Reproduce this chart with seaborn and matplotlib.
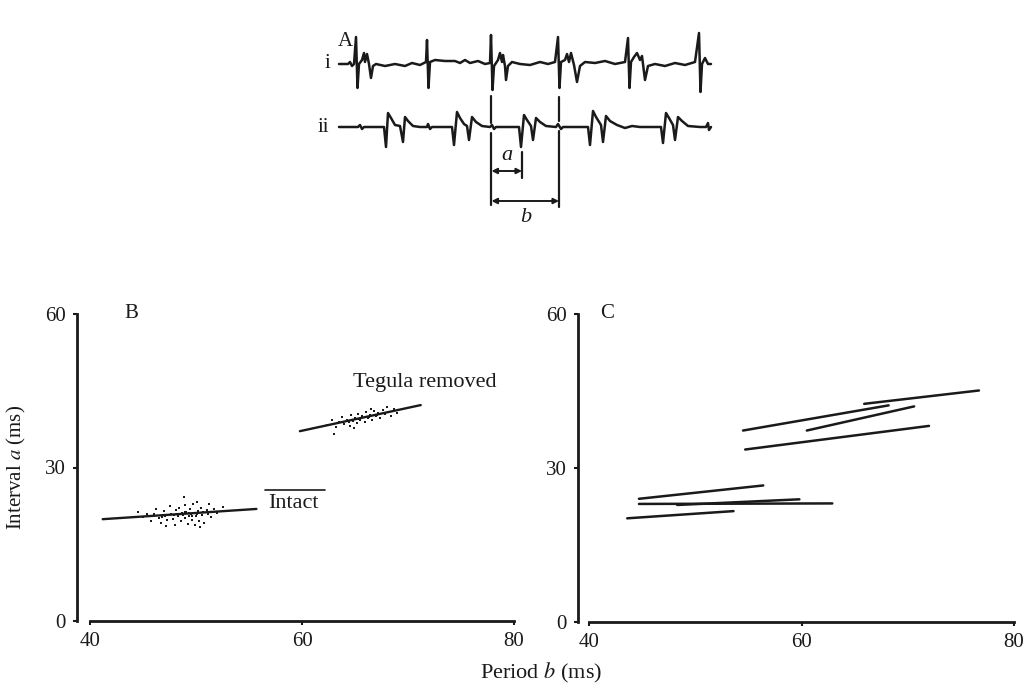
import numpy as np
import pandas as pd
import seaborn as sns
import matplotlib.pyplot as plt

# ---- panel A: two extracellular traces (time in trace samples, amplitude from baseline)
trace_i_t = [0, 9, 11, 13, 15, 17, 18.5, 20, 23, 25, 26, 28, 30, 32, 34, 37, 46, 56, 66, 73,
             81, 87, 88, 89.5, 91, 96, 106, 116, 121, 126, 131, 139, 146, 151, 152, 153.5,
             155, 159, 161, 163, 164, 166, 167, 169, 173, 181, 191, 201, 209, 216, 219,
             220.5, 222, 226, 228, 230, 232, 235, 238, 241, 246, 256, 266, 276, 286, 289,
             290.5, 292, 295, 298, 301, 303, 306, 309, 316, 326, 336, 346, 356, 360,
             361.5, 363, 366, 369, 372]
trace_i_v = [0, 0, 2, -2, 0, 27, -24, 0, 4, 11, 2, 10, 0, -14, -2, 0, -2, 0, -2, 1,
             -1, 2, 24, -24, 2, 4, 3, 3, 1, 4, 1, 3, 0, 1, 29, -26,
             -2, 4, 11, 2, 9, -2, -16, -2, 2, 0, -1, 2, 0, 2, 27,
             -24, 2, 4, 10, 2, 11, -1, -18, -2, 2, 1, 3, 0, 2, 26,
             -24, 2, 7, 11, 4, 8, -16, -2, 0, -2, 1, -1, 2, 31,
             -28, 0, 6, 0, 0]

trace_ii_t = [0, 19, 21, 23, 25, 45, 47, 49, 52, 56, 61, 64, 66, 69, 74, 81, 88, 89, 91, 93,
              113, 115, 118, 121, 125, 128, 130, 133, 137, 143, 151, 153, 155, 157,
              180, 182, 185, 188, 192, 194, 197, 201, 207, 217, 219, 222, 224,
              249, 251, 254, 257, 262, 264, 267, 271, 278, 286, 293, 301,
              322, 324, 327, 330, 334, 336, 339, 343, 349, 361, 367, 369, 370, 372]
trace_ii_v = [0, 0, 2, -2, 0, 0, -20, 14, 9, 2, 1, -15, 10, 6, 1, 0, 0, 3, -2, 0,
              0, -18, 15, 9, 3, 1, -13, 10, 5, 1, 0, 2, -2, 0,
              0, -20, 12, 7, 1, -13, 9, 5, 1, 0, 3, -2, 0,
              0, -18, 16, 10, 2, -15, 11, 6, 2, -1, 1, 0,
              0, -16, 14, 9, 2, -13, 10, 6, 1, 0, 0, 4, -3, 0]

marker_t = [152.5, 220]     # trace i spikes used as reference
a_end_t = 183               # onset of the trace ii burst

# ---- panel B: a against b, intact and tegula removed
intact_b = [44.5, 45.0, 45.4, 45.8, 46.0, 46.2, 46.5, 46.7, 47.0, 47.1, 47.3, 47.5, 47.6, 47.8,
            48.0, 48.1, 48.3, 48.4, 48.6, 48.7, 48.8, 49.0, 49.0, 49.1, 49.2, 49.3, 49.4,
            49.5, 49.6, 49.7, 49.8, 49.9, 50.0, 50.1, 50.2, 50.3, 50.5, 50.6, 50.8, 51.0,
            51.2, 51.4, 51.7, 52.0, 52.5, 48.9, 47.2, 50.4, 48.2, 49.3, 50.7, 47.9, 49.6,
            48.5, 50.1, 46.8, 51.1, 49.0]
intact_a = [21.4, 20.3, 21.0, 19.6, 20.9, 21.8, 20.2, 19.2, 21.5, 20.6, 19.8, 22.4, 21.0, 20.0,
            18.8, 21.6, 20.5, 22.0, 19.5, 21.2, 20.8, 20.2, 22.6, 21.4, 19.0, 20.6, 21.8,
            20.9, 19.8, 22.9, 21.1, 18.7, 20.5, 23.2, 21.5, 19.6, 22.1, 20.8, 19.2, 21.6,
            22.8, 20.4, 21.9, 21.2, 22.3, 24.2, 18.5, 18.4, 20.9, 21.1, 21.3, 20.7, 20.6,
            21.0, 20.9, 20.4, 21.0, 21.3]
tegula_b = [62.4, 62.8, 63.2, 63.5, 63.8, 64.0, 64.2, 64.5, 64.6, 64.8, 65.0, 65.2, 65.3, 65.5,
            65.7, 65.9, 66.0, 66.2, 66.4, 66.6, 66.8, 67.0, 67.2, 67.4, 67.6, 67.8, 68.1,
            68.4, 68.7, 69.0, 63.0, 66.5, 64.9, 68.0, 64.4, 65.4, 66.3, 67.1]
tegula_a = [38.3, 39.2, 37.9, 38.9, 39.8, 38.5, 39.3, 38.1, 40.2, 39.0, 39.6, 38.6, 40.5, 39.3,
            40.0, 38.9, 40.8, 39.7, 40.3, 39.2, 41.0, 40.1, 40.7, 39.6, 41.3, 40.4, 40.9,
            40.0, 41.4, 40.7, 36.5, 41.5, 37.7, 41.8, 38.9, 39.4, 39.8, 40.2]
fit_b = {"Intact": [41.2, 55.7], "Tegula removed": [59.8, 71.2]}
fit_a = {"Intact": [19.9, 21.9], "Tegula removed": [37.1, 42.2]}

# ---- panel C: regression lines from individual animals
c_b0 = [54.5, 65.9, 60.5, 54.7, 44.7, 44.7, 48.3, 43.6]
c_b1 = [68.2, 76.7, 70.6, 72.0, 56.4, 62.9, 59.8, 53.6]
c_a0 = [37.3, 42.5, 37.3, 33.6, 24.0, 23.0, 22.8, 20.2]
c_a1 = [42.2, 45.1, 42.0, 38.2, 26.6, 23.1, 23.9, 21.6]

sns.set_theme(style="ticks")
plt.rcParams["font.family"] = ["Liberation Serif", "DejaVu Serif"]
plt.rcParams["mathtext.fontset"] = "stix"
plt.rcParams["text.color"] = "k"
plt.rcParams["axes.labelcolor"] = "k"

W, H = 1036, 688
fig = plt.figure(figsize=(W / 100, H / 100), dpi=100)


def px_axes(x0, y0, x1, y1):
    return fig.add_axes([x0 / W, 1 - y1 / H, (x1 - x0) / W, (y1 - y0) / H])


# ---------------- A
axA = px_axes(300, 25, 740, 235)
axA.set_xlim(-39, 401)
axA.set_ylim(-171, 39)
axA.axis("off")
sns.lineplot(x=trace_i_t, y=trace_i_v, sort=False, estimator=None, color="k", lw=1.8, ax=axA)
sns.lineplot(x=trace_ii_t, y=np.array(trace_ii_v) - 63, sort=False, estimator=None,
             color="k", lw=1.8, ax=axA)
for t, up, low in zip(marker_t, [(-32, -59), (-33, -57)], [(-69, -141), (-67, -143)]):
    axA.plot([t, t], up, color="k", lw=1.6)
    axA.plot([t, t], low, color="k", lw=1.6)
axA.plot([a_end_t, a_end_t], [-88, -114], color="k", lw=1.6)
arr = dict(arrowstyle="<|-|>", color="k", lw=1.4, mutation_scale=8, shrinkA=0, shrinkB=0)
axA.annotate("", xy=(a_end_t, -107), xytext=(marker_t[0], -107), arrowprops=arr)
axA.annotate("", xy=(marker_t[1], -137), xytext=(marker_t[0], -137), arrowprops=arr)
axA.text((marker_t[0] + a_end_t) / 2, -91, "a", style="italic", fontsize=16, ha="center", va="center")
axA.text((marker_t[0] + marker_t[1]) / 2, -153, "b", style="italic", fontsize=16, ha="center", va="center")
axA.text(6, 22, "A", fontsize=15, ha="center", va="center")
axA.text(-12, 0, "i", fontsize=15, ha="center", va="center")
axA.text(-16, -64, "ii", fontsize=15, ha="center", va="center")


def style_axis(ax, offset_pt):
    ax.set_xlim(40, 80)
    ax.set_ylim(0, 60)
    ax.set_xticks([40, 60, 80])
    ax.set_yticks([0, 30, 60])
    sns.despine(ax=ax)
    ax.spines["left"].set_position(("outward", offset_pt))
    for s in ("left", "bottom"):
        ax.spines[s].set_linewidth(2.0)
        ax.spines[s].set_color("k")
    ax.tick_params(direction="out", length=3, width=1.5, colors="k", labelsize=15, pad=5)
    ax.set_xlabel("")
    ax.set_ylabel("")


# ---------------- B
axB = px_axes(90, 314, 514, 621)
pts = pd.DataFrame({"b": intact_b + tegula_b, "a": intact_a + tegula_a})
sns.scatterplot(data=pts, x="b", y="a", color="k", s=4, marker="s", linewidth=0, ax=axB)
fits = pd.DataFrame([(k, bb, aa) for k in fit_b for bb, aa in zip(fit_b[k], fit_a[k])],
                    columns=["cond", "b", "a"])
sns.lineplot(data=fits, x="b", y="a", units="cond", estimator=None, color="k", lw=1.7, ax=axB)
style_axis(axB, 9.5)
axB.text(43.9, 60, "B", fontsize=15, ha="center", va="center")
axB.text(71.6, 46.7, "Tegula removed", fontsize=16, ha="center", va="center")
axB.text(56.8, 23.0, "Intact", fontsize=16, ha="left", va="center")
axB.plot([56.5, 62.2], [25.6, 25.6], color="k", lw=1.2)
axB.set_ylabel("Interval $\\it{a}$ (ms)", fontsize=15, labelpad=12)

# ---------------- C
axC = px_axes(589, 314, 1014, 622)
segs = pd.DataFrame({
    "animal": np.repeat(np.arange(len(c_b0)), 2),
    "b": np.ravel(np.column_stack([c_b0, c_b1])),
    "a": np.ravel(np.column_stack([c_a0, c_a1])),
})
sns.lineplot(data=segs, x="b", y="a", units="animal", estimator=None, sort=False,
             color="k", lw=1.8, ax=axC)
style_axis(axC, 8)
axC.text(41.7, 60, "C", fontsize=15, ha="center", va="center")

fig.text(541 / W, 1 - 673 / H, "Period $\\it{b}$ (ms)", fontsize=16, ha="center", va="center")

fig.savefig("out.png", dpi=100, facecolor="white")
